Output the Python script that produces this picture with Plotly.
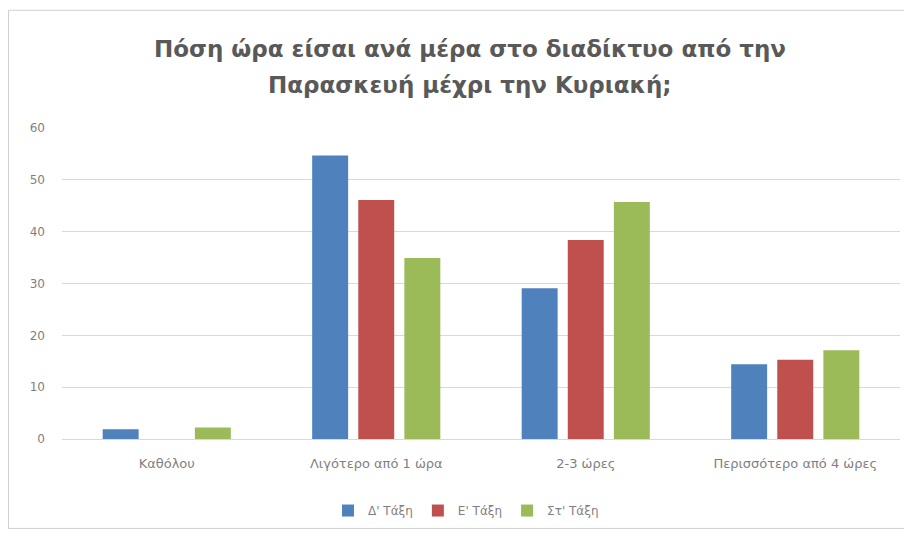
import plotly.graph_objects as go

categories = ["Καθόλου", "Λιγότερο από 1 ώρα", "2-3 ώρες", "Περισσότερο από 4 ώρες"]
series_names = ["Δ' Τάξη", "Ε' Τάξη", "Στ' Τάξη"]
d_taxi = [1.9, 54.7, 29.1, 14.4]
e_taxi = [0, 46.1, 38.4, 15.3]
st_taxi = [2.2, 34.9, 45.7, 17.1]
colors = ["#4F81BD", "#C0504D", "#9BBB59"]
y_ticks = [0, 10, 20, 30, 40, 50, 60]
title_lines = ["Πόση ώρα είσαι ανά μέρα στο διαδίκτυο από την", "Παρασκευή μέχρι την Κυριακή;"]

FONT = "DejaVu Sans"

fig = go.Figure()
for name, vals, c in zip(series_names, [d_taxi, e_taxi, st_taxi], colors):
    fig.add_trace(go.Bar(name=name, x=categories, y=vals, marker_color=c, marker_line_width=0))

# page body has an 8px margin; figure pixel = screen pixel - 8
W, H = 904, 529
L, R, T, B = 54, 12, 120, 96
pw, ph = W - L - R, H - T - B

def px_x(p):
    return (p - L) / pw

def px_y(p):
    return (H - B - p) / ph

annotations = []
for line, ypx in zip(title_lines, [40, 77]):
    annotations.append(dict(text="<b>" + line + "</b>", xref="paper", yref="paper",
                            x=px_x(462), y=px_y(ypx), xanchor="center", yanchor="middle",
                            showarrow=False,
                            font=dict(family=FONT, size=23, color="#595959")))

fig.update_layout(
    width=W, height=H,
    margin=dict(l=L, r=R, t=T, b=B),
    paper_bgcolor="white", plot_bgcolor="white",
    barmode="group", bargap=0.34, bargroupgap=0.22,
    font=dict(family=FONT, color="#7F7F7F", size=12),
    showlegend=True,
    legend=dict(orientation="h", x=px_x(458), xanchor="center", y=px_y(505), yanchor="middle",
                font=dict(family=FONT, size=12, color="#7F7F7F"), itemwidth=30),
    annotations=annotations,
    shapes=[dict(type="rect", xref="paper", yref="paper",
                 x0=px_x(0.5), x1=px_x(898), y0=px_y(523), y1=px_y(1.5),
                 line=dict(color="#D0D0D0", width=1), fillcolor="rgba(0,0,0,0)", layer="below")],
)
fig.update_yaxes(range=[0, 60], tickvals=y_ticks, showgrid=True, gridcolor="#D9D9D9",
                 zeroline=False, showline=False, ticks="", ticklabelstandoff=16,
                 tickfont=dict(family=FONT, size=12, color="#7F7F7F"))
fig.update_xaxes(showline=True, linecolor="#D9D9D9", ticks="", showgrid=False,
                 tickfont=dict(family=FONT, size=13, color="#7F7F7F"), ticklabelstandoff=12)

fig.write_html("out.html")
